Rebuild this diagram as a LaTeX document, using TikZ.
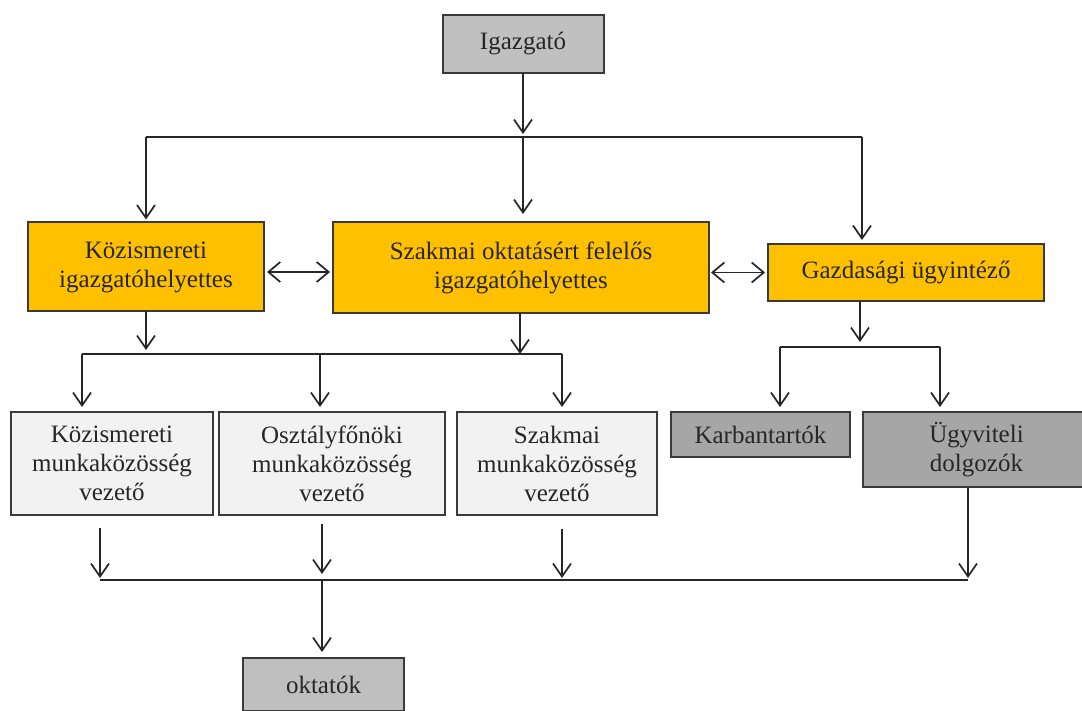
\documentclass[tikz,border=0pt]{standalone}
\usepackage{fontspec}
\setmainfont{LiberationSerif}[Extension=.ttf, UprightFont=*-Regular, BoldFont=*-Bold]
\usetikzlibrary{arrows.meta,calc}
\definecolor{orng}{HTML}{FFC000}
\definecolor{gtop}{HTML}{C0C0C0}
\definecolor{glight}{HTML}{F2F2F2}
\definecolor{gdark}{HTML}{A6A6A6}
\definecolor{okt}{HTML}{BFBFBF}
\definecolor{bordc}{HTML}{3A3A3A}
\begin{document}
\begin{tikzpicture}[x=0.5pt,y=-0.5pt,
  box/.style={draw=bordc, line width=1pt, inner sep=0pt, outer sep=0pt, align=center,
    font=\fontsize{12.5}{14.5}\selectfont, text=black!85},
  arr/.style={draw=black!85, line width=0.85pt, -{Straight Barb[length=6.5pt,width=9pt,line width=0.85pt]}},
  darr/.style={draw=black!85, line width=0.85pt, {Straight Barb[length=6pt,width=10pt,line width=0.85pt]}-{Straight Barb[length=6pt,width=10pt,line width=0.85pt]}},
  ln/.style={draw=black!85, line width=0.85pt}]
\useasboundingbox (0,0) rectangle (1082,711);
\fill[white] (0,0) rectangle (1082,711);

% nodes
\node[box, fill=gtop, minimum width=80.5pt, minimum height=29pt] (ig) at (523,44) {Igazgató};
\node[box, fill=orng, minimum width=118pt, minimum height=44.5pt] (kig) at (146,267) {Közismereti\\igazgatóhelyettes};
\node[box, fill=orng, minimum width=188pt, minimum height=45.5pt] (sig) at (521,267.5) {Szakmai oktatásért felelős\\igazgatóhelyettes};
\node[box, fill=orng, minimum width=138pt, minimum height=28.5pt] (gu) at (906,272.5) {Gazdasági ügyintéző};
\node[box, fill=glight, minimum width=101pt, minimum height=51.5pt] (kmv) at (112,463.5) {Közismereti\\munkaközösség\\vezető};
\node[box, fill=glight, minimum width=113pt, minimum height=51.5pt] (omv) at (332,463.5) {Osztályfőnöki\\munkaközösség\\vezető};
\node[box, fill=glight, minimum width=100pt, minimum height=51.5pt] (smv) at (557,463.5) {Szakmai\\munkaközösség\\vezető};
\node[box, fill=gdark, minimum width=89.5pt, minimum height=22.5pt] (kar) at (760.5,434.5) {Karbantartók};
\node[box, fill=gdark, minimum width=113.5pt, minimum height=37.5pt] (ugy) at (976.5,449.5) {Ügyviteli\\dolgozók};
\node[box, fill=okt, minimum width=80.5pt, minimum height=26.5pt] (ok) at (323.5,684.5) {oktatók};

% junction coordinates
\coordinate (j0) at (523,137);
\coordinate (tL) at (146,137);
\coordinate (tR) at (862,137);
\coordinate (mL) at (82,354);
\coordinate (mM) at (320,354);
\coordinate (mR) at (562,354);
\coordinate (kD) at (146,354);
\coordinate (sD) at (520,354);
\coordinate (gD) at (860,347);
\coordinate (rL) at (780,347);
\coordinate (rR) at (940,347);
\coordinate (b1) at (100,580);
\coordinate (b2) at (322,580);
\coordinate (b3) at (562,580);
\coordinate (b4) at (968,580);

% top level
\draw[arr, shorten >=1.5pt] (ig.south) -- (j0);
\draw[ln] (tL) -- (tR);
\draw[arr, shorten >=1.5pt] (tL) -- (kig.north);
\draw[arr, shorten >=4pt] (j0) -- (j0 |- sig.north);
\draw[arr, shorten >=2pt] (tR) -- (tR |- gu.north);

% double arrows
\draw[darr, shorten <=1.5pt, shorten >=1.5pt] ([yshift=-2.5pt]kig.east) -- ([yshift=-2.5pt]kig.east -| sig.west);
\draw[darr, shorten <=1pt, shorten >=1.5pt] (gu.west -| sig.east) -- (gu.west);

% middle
\draw[arr, shorten >=2pt] (kig.south) -- (kD);
\draw[arr] (sig.south -| sD) -- (sD);
\draw[ln] (mL) -- (mR);
\draw[arr, shorten >=2.5pt] (mL) -- (mL |- kmv.north);
\draw[arr, shorten >=2.5pt] (mM) -- (mM |- omv.north);
\draw[arr, shorten >=2.5pt] (mR) -- (mR |- smv.north);

% right
\draw[arr, shorten >=2.5pt] (gu.south -| gD) -- (gD);
\draw[ln] (rL) -- (rR);
\draw[arr, shorten >=2.5pt] (rL) -- (rL |- kar.north);
\draw[arr, shorten >=2.5pt] (rR) -- (rR |- ugy.north);

% bottom
\draw[arr, shorten >=1pt] ([yshift=-6.5pt]kmv.south -| b1) -- (b1);
\draw[arr, shorten >=3pt] ([yshift=-4.5pt]omv.south -| b2) -- (b2);
\draw[arr, shorten >=1pt] ([yshift=-7pt]smv.south -| b3) -- (b3);
\draw[arr, shorten >=1pt] (ugy.south -| b4) -- (b4);
\draw[ln] (b1) -- (b4);
\draw[arr, shorten >=3pt] (b2) -- (b2 |- ok.north);
\end{tikzpicture}
\end{document}
